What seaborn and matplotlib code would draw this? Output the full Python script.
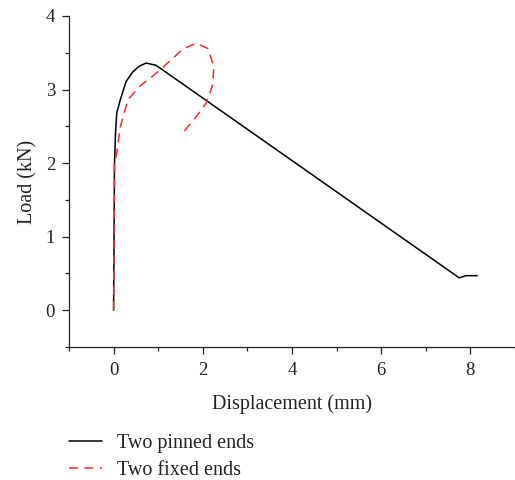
import numpy as np
import pandas as pd
import matplotlib
matplotlib.use("Agg")
import matplotlib.pyplot as plt
import seaborn as sns
from matplotlib.ticker import MultipleLocator

# Data
pinned_x = [0.0, 0.01, 0.02, 0.045, 0.07, 0.15, 0.28, 0.43, 0.58, 0.73, 0.95, 1.0, 7.75, 7.9, 8.15]
pinned_y = [0.0, 1.0, 2.0, 2.43, 2.68, 2.86, 3.11, 3.24, 3.32, 3.36, 3.33, 3.31, 0.44, 0.47, 0.47]
fixed_x = [0.0, 0.01, 0.02, 0.06, 0.15, 0.32, 0.58, 0.95, 1.32, 1.55, 1.85, 2.11, 2.25, 2.22, 2.07, 1.85, 1.51]
fixed_y = [0.0, 1.0, 2.0, 2.09, 2.49, 2.86, 3.04, 3.22, 3.42, 3.55, 3.63, 3.56, 3.31, 3.06, 2.81, 2.63, 2.38]
labels = ["Two pinned ends", "Two fixed ends"]

sns.set_style("ticks")
plt.rcParams['font.family'] = ['Liberation Serif', 'DejaVu Serif']

fig = plt.figure(figsize=(5.15, 4.8), dpi=100)
ax = fig.add_axes([69/515, 1-347/480, 1-69/515, (347-16)/480])

dfp = pd.DataFrame({"x": pinned_x, "y": pinned_y})
dff = pd.DataFrame({"x": fixed_x, "y": fixed_y})
sns.lineplot(data=dfp, x="x", y="y", sort=False, estimator=None, ax=ax,
             color="black", linewidth=1.1, label=labels[0])
sns.lineplot(data=dff, x="x", y="y", sort=False, estimator=None, ax=ax,
             color="#ff2a2a", linewidth=1.1, linestyle=(0, (6, 4)), label=labels[1])

ax.set_xlim(-1, 9)
ax.set_ylim(-0.5, 4)
ax.xaxis.set_major_locator(MultipleLocator(2))
ax.xaxis.set_minor_locator(MultipleLocator(1))
ax.yaxis.set_major_locator(MultipleLocator(1))
ax.yaxis.set_minor_locator(MultipleLocator(0.5))
ax.tick_params(which='major', direction='out', length=5, width=0.9, labelsize=13.5, colors='#222222')
ax.tick_params(axis='x', which='major', pad=6)
ax.tick_params(axis='y', which='major', pad=5)
ax.tick_params(which='minor', direction='out', length=3, width=0.9, colors='#222222')
for s in ['top', 'right']:
    ax.spines[s].set_visible(False)
for s in ['left', 'bottom']:
    ax.spines[s].set_linewidth(0.9)
    ax.spines[s].set_color('#222222')
ax.set_xlabel("Displacement (mm)", fontsize=14.5, color='#222222', labelpad=11)
ax.set_ylabel("Load (kN)", fontsize=14.5, color='#222222', labelpad=6)

ax.get_legend().remove()
h, l = ax.get_legend_handles_labels()
fig.legend(h, l, loc='upper left', bbox_to_anchor=(69/515, 1-434/480), frameon=False,
           fontsize=14.5, handlelength=1.65, handletextpad=0.75, labelspacing=0.4,
           borderpad=0, borderaxespad=0, labelcolor='#222222')

fig.savefig("out.png", dpi=100)
